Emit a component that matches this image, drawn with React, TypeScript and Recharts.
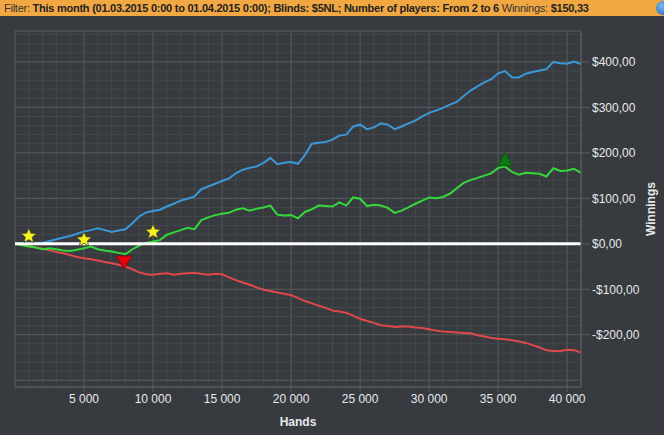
import React from "react";
import {
  LineChart,
  Line,
  XAxis,
  YAxis,
  ReferenceLine,
  ReferenceArea,
  ReferenceDot,
} from "recharts";

// hands axis, sampled every 500 hands
const hands = Array.from({ length: 83 }, (_, i) => i * 500);

// winnings ($) at each hands value
const totalWinnings = [
  0, 0, -1, 1, 2, 6, 10, 14, 17, 22, 27, 30, 34, 30, 26, 29, 32, 45, 60, 69,
  72, 75, 82, 88, 95, 99, 104, 120, 126, 132, 138, 144, 155, 163, 167, 170, 178, 189, 175, 178,
  180, 176, 195, 220, 222, 224, 229, 238, 240, 258, 262, 252, 256, 265, 262, 252, 258, 265, 271, 280,
  288, 293, 299, 306, 312, 325, 337, 346, 355, 362, 375, 380, 366, 366, 374, 378, 381, 384, 400, 397,
  396, 401, 395,
];
const allInAdjusted = [
  0, -3, -6, -8, -12, -10, -12, -15, -16, -13, -10, -6, -12, -15, -17, -20, -23, -12, -4, 2,
  5, 8, 20, 25, 30, 35, 32, 52, 58, 63, 66, 68, 75, 78, 73, 77, 80, 84, 64, 62,
  63, 56, 70, 76, 84, 83, 82, 91, 84, 102, 99, 83, 86, 84, 79, 68, 73, 80, 88, 95,
  102, 100, 103, 110, 122, 134, 140, 145, 150, 155, 167, 170, 158, 152, 156, 155, 154, 148, 166, 160,
  161, 165, 156,
];
const nonShowdown = [
  0, -2, -5, -8, -11, -14, -18, -21, -25, -29, -32, -34, -37, -40, -43, -46, -50, -56, -63, -67,
  -68, -66, -65, -68, -66, -65, -64, -66, -68, -66, -67, -74, -80, -85, -90, -96, -101, -104, -107, -110,
  -113, -119, -126, -131, -136, -141, -147, -149, -152, -158, -165, -170, -174, -179, -181, -183, -182, -182, -184, -185,
  -188, -191, -193, -194, -195, -196, -197, -201, -204, -207, -209, -210, -212, -215, -218, -223, -228, -234, -236, -236,
  -233, -234, -239,
];

// event markers
const starHands = [1000, 5000, 10000];
const starValues = [17, 9, 26];
const lowHand = 7900;
const lowValue = -40;
const highHand = 35500;
const highValue = 185;

const xTicks = [5000, 10000, 15000, 20000, 25000, 30000, 35000, 40000];
const yTicks = [-200, -100, 0, 100, 200, 300, 400];
const xMinor = Array.from({ length: 41 }, (_, i) => (i + 1) * 1000);
const yMinor = Array.from({ length: 39 }, (_, i) => -300 + i * 20);

const X_DOMAIN: [number, number] = [0, 41000];
const Y_DOMAIN: [number, number] = [-315, 468];

const data = hands.map((h, i) => ({
  hands: h,
  total: totalWinnings[i],
  allin: allInAdjusted[i],
  nsd: nonShowdown[i],
}));

const BG = "#373a3e";
const MINOR = "#45484c";
const MAJOR = "#595c60";
const TXT = "#e6e8ee";
const FONT = "'Liberation Sans', Arial, sans-serif";

const fmtX = (v: number) => `${v / 1000} 000`;
const fmtY = (v: number) => (v < 0 ? `-$${-v},00` : `$${v},00`);

const Star = (props: any) => {
  const { cx, cy } = props;
  const pts: string[] = [];
  for (let i = 0; i < 10; i++) {
    const r = i % 2 === 0 ? 8 : 3.6;
    const a = -Math.PI / 2 + (i * Math.PI) / 5;
    pts.push(`${cx + r * Math.cos(a)},${cy + r * Math.sin(a)}`);
  }
  return <polygon points={pts.join(" ")} fill="#f6f01c" stroke="#4a4630" strokeWidth={0.8} />;
};

const DownTri = (props: any) => {
  const { cx, cy } = props;
  return (
    <polygon
      points={`${cx - 8},${cy - 6} ${cx + 8},${cy - 6} ${cx},${cy + 7}`}
      fill="#e8000c"
      stroke="#7a1010"
      strokeWidth={1}
    />
  );
};

const UpTri = (props: any) => {
  const { cx, cy } = props;
  return (
    <polygon
      points={`${cx - 7},${cy + 6} ${cx + 7},${cy + 6} ${cx},${cy - 7}`}
      fill="#0b7a12"
      stroke="#0a5a10"
      strokeWidth={1}
    />
  );
};

const WinningsLabel = (props: any) => {
  const vb = props.viewBox || {};
  const x = vb.x + vb.width - 13;
  const y = vb.y + vb.height / 2;
  return (
    <text
      x={x}
      y={y}
      transform={`rotate(-90, ${x}, ${y})`}
      textAnchor="middle"
      dominantBaseline="central"
      fill={TXT}
      fontSize={12}
      fontWeight="bold"
      fontFamily={FONT}
    >
      Winnings
    </text>
  );
};

export default function App() {
  return (
    <div style={{ position: "absolute", left: 0, top: 0, width: 664, height: 435, background: BG, overflow: "hidden" }}>
      <div
        style={{
          position: "absolute",
          left: 0,
          top: 0,
          width: 664,
          height: 16,
          background: "#f1a843",
          fontFamily: FONT,
          fontSize: 11,
          letterSpacing: -0.25,
          lineHeight: "16px",
          color: "#222",
          whiteSpace: "nowrap",
          paddingLeft: 4,
          boxSizing: "border-box",
        }}
      >
        <span style={{ color: "#333" }}>Filter: </span>
        <b>This month (01.03.2015 0:00 to 01.04.2015 0:00); Blinds: $5NL; Number of players: From 2 to 6</b>
        <span style={{ color: "#333" }}> Winnings: </span>
        <b>$150,33</b>
        <div
          style={{
            position: "absolute",
            left: 656,
            top: 1,
            width: 14,
            height: 14,
            borderRadius: 7,
            background: "radial-gradient(circle at 40% 35%, #7ab8f0, #1a5fb0)",
          }}
        />
      </div>
      <div style={{ position: "absolute", left: 0, top: 0 }}>
        <LineChart
          width={664}
          height={435}
          data={data}
          margin={{ top: 31, right: 0, bottom: 0, left: 15 }}
        >
          <XAxis
            xAxisId="minor"
            dataKey="hands"
            type="number"
            domain={X_DOMAIN}
            ticks={xMinor}
            height={0}
            axisLine={false}
            tick={false}
            tickSize={4}
            stroke={MAJOR}
            allowDataOverflow
          />
          <YAxis
            yAxisId="minor"
            orientation="right"
            type="number"
            domain={Y_DOMAIN}
            ticks={yMinor}
            width={0}
            axisLine={false}
            tick={false}
            tickSize={4}
            stroke={MAJOR}
            allowDataOverflow
          />
          <XAxis
            dataKey="hands"
            type="number"
            domain={X_DOMAIN}
            ticks={xTicks}
            tickFormatter={fmtX}
            height={48}
            stroke={MAJOR}
            tickSize={5}
            tickMargin={2}
            tick={{ fill: TXT, fontSize: 12, fontFamily: FONT }}
            allowDataOverflow
            label={{ value: "Hands", position: "insideBottom", offset: 9, fill: TXT, fontSize: 12, fontWeight: "bold", fontFamily: FONT }}
          />
          <YAxis
            orientation="right"
            type="number"
            domain={Y_DOMAIN}
            ticks={yTicks}
            tickFormatter={fmtY}
            width={83}
            stroke={MAJOR}
            tickSize={9}
            tickMargin={2}
            tick={{ fill: TXT, fontSize: 12, fontFamily: FONT }}
            allowDataOverflow
            label={<WinningsLabel />}
          />
          {xMinor.map((v) => (
            <ReferenceLine key={`xm${v}`} x={v} stroke={v % 5000 === 0 ? MAJOR : MINOR} strokeWidth={1} />
          ))}
          {yMinor.map((v) => (
            <ReferenceLine key={`ym${v}`} y={v} stroke={v % 100 === 0 ? MAJOR : MINOR} strokeWidth={1} />
          ))}
          <ReferenceArea x1={0} x2={41000} y1={-315} y2={468} fill="none" stroke={MAJOR} strokeWidth={1} />
          <Line type="linear" dataKey="total" stroke="#3b98d8" strokeWidth={2} dot={false} isAnimationActive={false} />
          <Line type="linear" dataKey="nsd" stroke="#e0494b" strokeWidth={2} dot={false} isAnimationActive={false} />
          <Line type="linear" dataKey="allin" stroke="#33d83a" strokeWidth={2} dot={false} isAnimationActive={false} />
          <ReferenceLine y={0} stroke="#ffffff" strokeWidth={3} />
          {starHands.map((h, i) => (
            <ReferenceDot key={`s${h}`} x={h} y={starValues[i]} r={8} shape={Star} />
          ))}
          <ReferenceDot x={lowHand} y={lowValue} r={8} shape={DownTri} />
          <ReferenceDot x={highHand} y={highValue} r={8} shape={UpTri} />
        </LineChart>
      </div>
    </div>
  );
}
